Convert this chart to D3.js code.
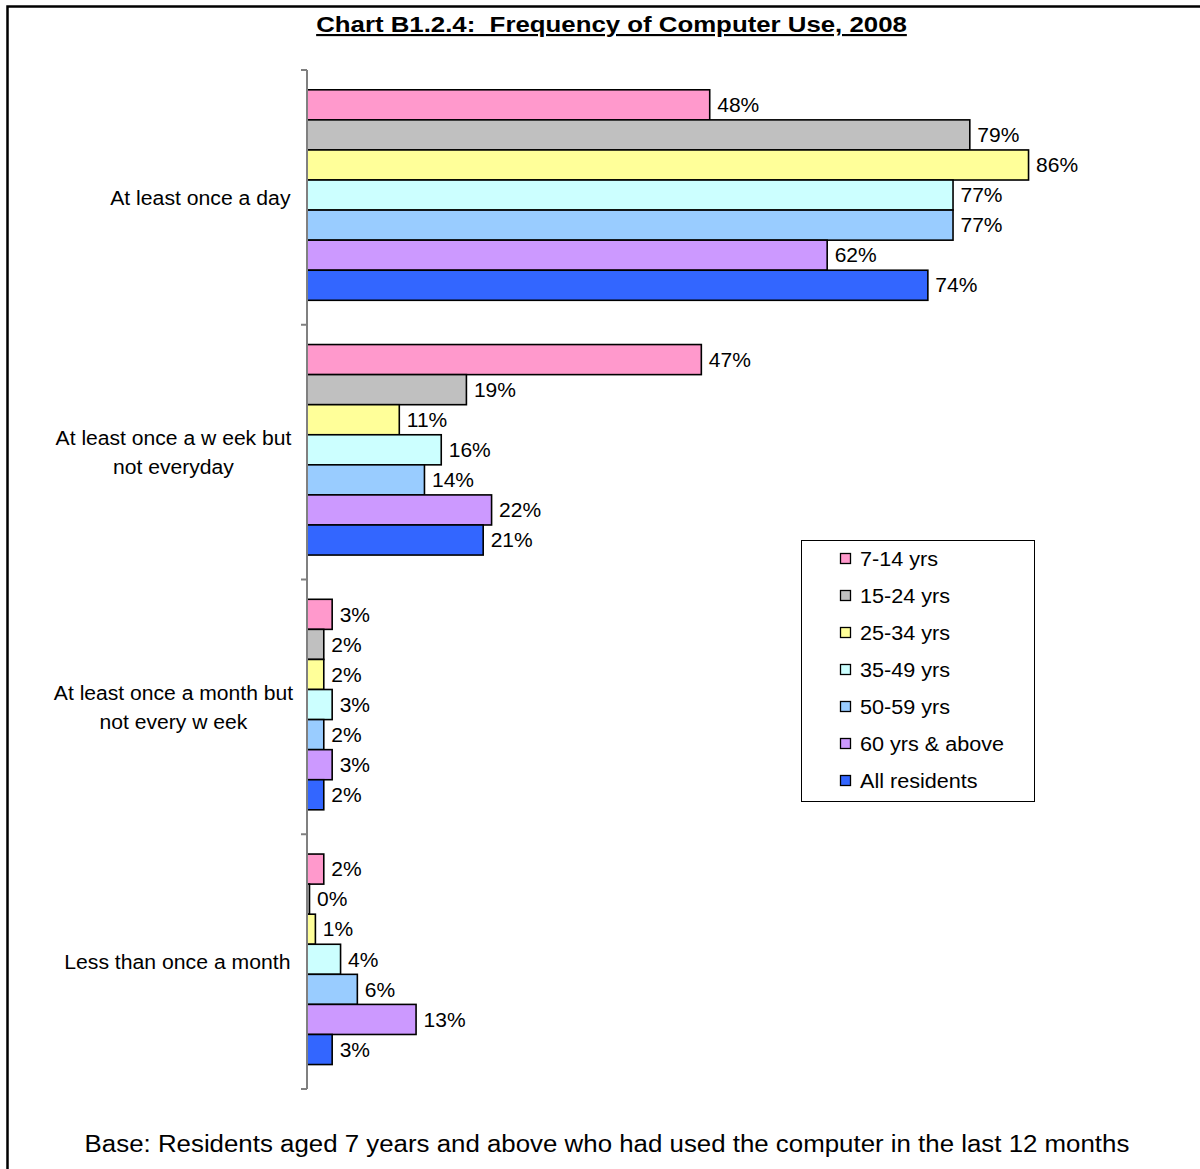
<!DOCTYPE html>
<html>
<head>
<meta charset="utf-8">
<script src="https://cdnjs.cloudflare.com/ajax/libs/d3/7.8.5/d3.min.js"></script>
<style>
  html, body { margin: 0; padding: 0; background: #fff; }
  svg { display: block; font-family: Arial, "Liberation Sans", sans-serif; }
  text { white-space: pre; }
</style>
</head>
<body>
<svg id="chart" width="1200" height="1169"></svg>
<script>
// Frequency categories (top to bottom); labels may wrap onto two lines
const categories = [
  "At least once a day",
  "At least once a week but not everyday",
  "At least once a month but not every week",
  "Less than once a month"
];
const categoryLines = [
  ["At least once a day"],
  ["At least once a w eek but", "not everyday"],
  ["At least once a month but", "not every w eek"],
  ["Less than once a month"]
];

// Age groups, in bar order within each category
const seriesNames = ["7-14 yrs", "15-24 yrs", "25-34 yrs", "35-49 yrs", "50-59 yrs", "60 yrs & above", "All residents"];
const seriesColors = ["#FF99CC", "#C0C0C0", "#FFFF99", "#CCFFFF", "#99CCFF", "#CC99FF", "#3366FF"];

// Percentages, one array per age group, aligned with categories
const v7to14   = [48, 47, 3, 2];
const v15to24  = [79, 19, 2, 0];
const v25to34  = [86, 11, 2, 1];
const v35to49  = [77, 16, 3, 4];
const v50to59  = [77, 14, 2, 6];
const v60plus  = [62, 22, 3, 13];
const vAll     = [74, 21, 2, 3];
const seriesValues = [v7to14, v15to24, v25to34, v35to49, v50to59, v60plus, vAll];

const titleText = "Chart B1.2.4:  Frequency of Computer Use, 2008";
const noteText = "Base: Residents aged 7 years and above who had used the computer in the last 12 months";

const svg = d3.select("#chart");

// Widen text glyphs horizontally by factor k (keeps the start x fixed)
function widen(sel, k) {
  sel.each(function () {
    const w = this.getComputedTextLength();
    d3.select(this).attr("textLength", w * k).attr("lengthAdjust", "spacingAndGlyphs");
  });
}
// Place a text so that it is centred / right-aligned after widening
function placeText(g, str, opts) {
  const t = g.append("text")
    .attr("x", 0).attr("y", opts.y)
    .attr("dy", opts.dy || null)
    .attr("font-size", opts.size)
    .attr("font-weight", opts.weight || null)
    .attr("text-decoration", opts.decoration || null)
    .text(str);
  const w = t.node().getComputedTextLength() * opts.k;
  t.attr("textLength", w).attr("lengthAdjust", "spacingAndGlyphs");
  let x0 = opts.x;
  if (opts.anchor === "middle") x0 = opts.x - w / 2;
  if (opts.anchor === "end") x0 = opts.x - w;
  t.attr("x", x0);
  return t;
}

// Outer frame (left and top edges visible)
svg.append("rect")
  .attr("x", 7.5).attr("y", 6.5)
  .attr("width", 1300).attr("height", 1300)
  .attr("fill", "none").attr("stroke", "#000").attr("stroke-width", 2.5);

// Title, bold and underlined
placeText(svg, titleText, { x: 611.5, y: 32, size: 21.5, weight: "bold", decoration: "underline", k: 1.2, anchor: "middle" });

// Scales
const x = d3.scaleLinear().domain([0, 100]).range([307, 1146]);
const y = d3.scaleBand().domain(categories).range([70, 1089]).padding(0);
const yInner = d3.scaleBand().domain(seriesNames).range([19.8, 230.3]).padding(0);

const data = [];
categories.forEach((c, ci) => {
  seriesNames.forEach((s, si) => {
    data.push({ cat: c, series: s, color: seriesColors[si], value: seriesValues[si][ci] });
  });
});

// Bars (a zero value still shows as a hairline bar)
svg.append("g").selectAll("rect")
  .data(data)
  .join("rect")
  .attr("x", x(0))
  .attr("y", d => y(d.cat) + yInner(d.series))
  .attr("width", d => Math.max(x(d.value) - x(0), 2.5))
  .attr("height", yInner.bandwidth())
  .attr("fill", d => d.color)
  .attr("stroke", "#000")
  .attr("stroke-width", 1.6);

// Value labels
const valueLabels = svg.append("g").selectAll("text")
  .data(data)
  .join("text")
  .attr("x", d => Math.max(x(d.value), x(0) + 2.5) + 7.5)
  .attr("y", d => y(d.cat) + yInner(d.series) + yInner.bandwidth() / 2)
  .attr("dy", "0.36em")
  .attr("font-size", 20)
  .attr("fill", "#000")
  .text(d => d.value + "%");
widen(valueLabels, 1.05);

// Vertical category axis with ticks at band boundaries
const axisG = svg.append("g");
axisG.append("line")
  .attr("x1", x(0)).attr("x2", x(0))
  .attr("y1", y.range()[0]).attr("y2", y.range()[1])
  .attr("stroke", "#808080").attr("stroke-width", 2);
const boundaries = categories.map(c => y(c)).concat([y.range()[1]]);
axisG.selectAll("line.tick")
  .data(boundaries)
  .join("line")
  .attr("class", "tick")
  .attr("x1", x(0) - 6).attr("x2", x(0))
  .attr("y1", d => d).attr("y2", d => d)
  .attr("stroke", "#808080").attr("stroke-width", 2);

// Category labels: single lines right-aligned, wrapped lines centred
const catG = svg.append("g");
categories.forEach((c, ci) => {
  const lines = categoryLines[ci];
  const cy = y(c) + y.bandwidth() / 2;
  const lh = 29;
  lines.forEach((ln, li) => {
    const ly = cy + (li - (lines.length - 1) / 2) * lh;
    if (lines.length === 1) {
      placeText(catG, ln, { x: 290.5, y: ly, dy: "0.36em", size: 20, k: 1.06, anchor: "end" });
    } else {
      placeText(catG, ln, { x: 173.5, y: ly, dy: "0.36em", size: 20, k: 1.055, anchor: "middle" });
    }
  });
});

// Legend
const legend = svg.append("g");
legend.append("rect")
  .attr("x", 801.5).attr("y", 540.5)
  .attr("width", 233).attr("height", 261)
  .attr("fill", "#fff").attr("stroke", "#000").attr("stroke-width", 1);
const lyScale = d3.scaleBand().domain(seriesNames).range([540, 799]);
seriesNames.forEach((s, i) => {
  const cy = lyScale(s) + lyScale.bandwidth() / 2;
  legend.append("rect")
    .attr("x", 840.5).attr("y", cy - 5)
    .attr("width", 10).attr("height", 10)
    .attr("fill", seriesColors[i]).attr("stroke", "#000").attr("stroke-width", 1.3);
  placeText(legend, s, { x: 860, y: cy, dy: "0.36em", size: 20, k: 1.08, anchor: "start" });
});

// Base note
placeText(svg, noteText, { x: 607, y: 1152, size: 23.5, k: 1.1, anchor: "middle" });
</script>
</body>
</html>
